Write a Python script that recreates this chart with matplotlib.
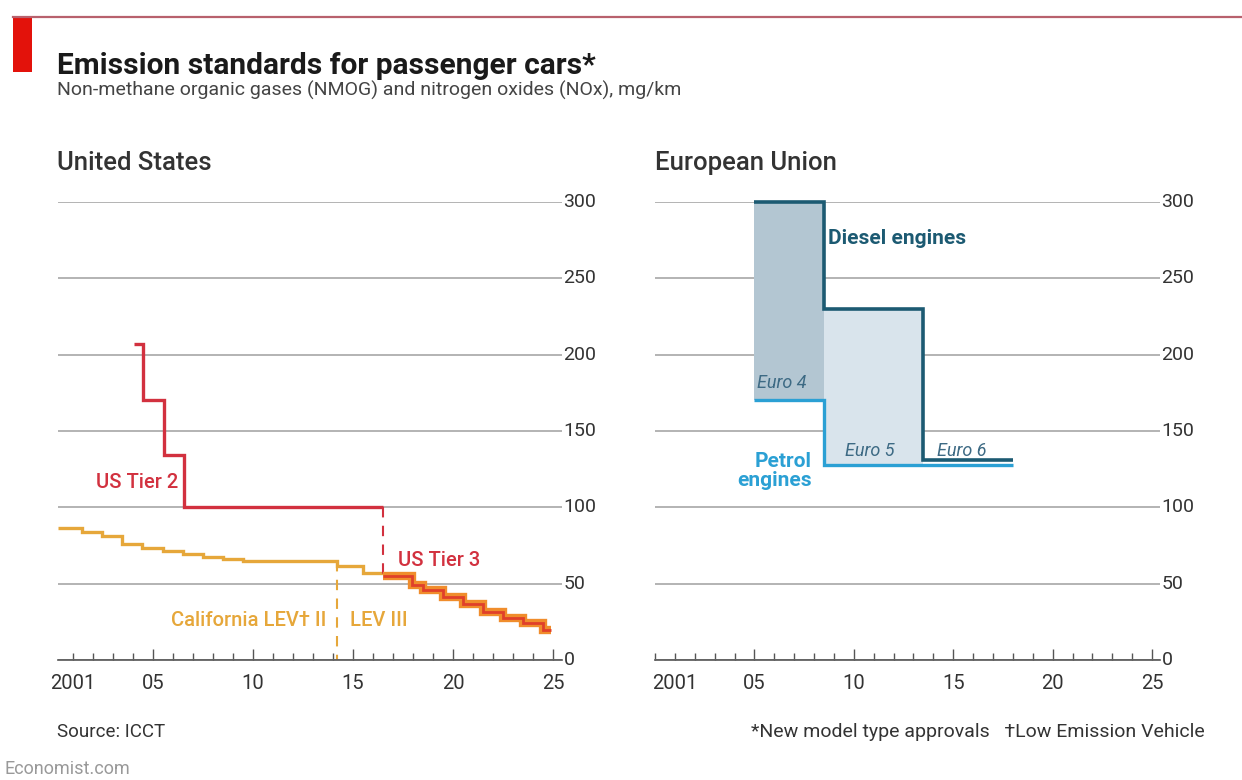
import matplotlib
matplotlib.use("Agg")
import matplotlib.pyplot as plt
import matplotlib.patheffects as pe
from matplotlib.ticker import FixedLocator, MultipleLocator

plt.rcParams['font.family'] = ['Roboto', 'DejaVu Sans']

# --- data (mg/km) ---
# United States
tier2_edges = [2004.05, 2004.5, 2005.55, 2006.55, 2016.5]
tier2_vals = [207, 170, 134, 100]

lev_edges = [2000.25, 2001.45, 2002.45, 2003.45, 2004.45, 2005.5, 2006.5,
             2007.5, 2008.5, 2009.5, 2014.2, 2015.5, 2016.5]
lev_vals = [86.5, 83.8, 81.2, 76.0, 73.4, 71.4, 69.4, 67.5, 66.2, 64.8, 61.6, 57.0]

tier3_edges = [2016.5, 2017.95, 2018.5, 2019.5, 2020.5, 2021.5, 2022.5,
               2023.5, 2024.5, 2024.9]
tier3_vals = [55.2, 49.1, 45.9, 41.0, 36.7, 31.7, 27.3, 24.0, 19.6]

# European Union
eu_edges = [2005, 2008.5, 2013.5, 2018]
diesel_vals = [300, 230, 131]
petrol_vals = [170, 128, 128]
eu_stages = ["Euro 4", "Euro 5", "Euro 6"]

year_ticks = [2001, 2005, 2010, 2015, 2020, 2025]
year_labels = ["2001", "05", "10", "15", "20", "25"]
y_ticks = [0, 50, 100, 150, 200, 250, 300]

# --- colours ---
TEXT = '#333333'
GRID = '#b3b3b3'
AXIS = '#555555'
RED = '#d2313f'
GOLD = '#e6a73a'
T3_RED = '#e0402a'
T3_ORANGE = '#f08d2c'
DIESEL = '#1c5a72'
PETROL = '#2ba0d4'
FILL4 = '#b3c6d2'
FILL5 = '#d9e4ec'

fig = plt.figure(figsize=(12.42, 7.8), dpi=100)
fig.patch.set_facecolor('white')


def style_axis(ax, xlim):
    ax.set_xlim(*xlim)
    ax.set_ylim(0, 300)
    for side in ('top', 'left', 'right'):
        ax.spines[side].set_visible(False)
    ax.spines['bottom'].set_color(AXIS)
    ax.spines['bottom'].set_linewidth(1.2)
    ax.spines['bottom'].set_zorder(5)
    ax.yaxis.tick_right()
    ax.set_yticks(y_ticks)
    ax.tick_params(axis='y', length=0, pad=1, labelsize=14, labelcolor=TEXT)
    ax.yaxis.grid(True, color=GRID, linewidth=1.4)
    ax.set_axisbelow(True)
    ax.xaxis.set_major_locator(FixedLocator(year_ticks))
    ax.xaxis.set_minor_locator(MultipleLocator(1))
    ax.set_xticklabels(year_labels)
    ax.tick_params(axis='x', which='major', direction='in', length=8, width=1,
                   color=AXIS, pad=10, labelsize=14.5, labelcolor=TEXT)
    ax.tick_params(axis='x', which='minor', direction='in', length=5, width=1,
                   color=AXIS)
    ax.xaxis.get_major_ticks()[0].tick1line.set_markersize(5)
    for lbl in ax.get_yticklabels():
        lbl.set_verticalalignment('center')


# --- United States panel ---
ax1 = fig.add_axes([58 / 1242, 1 - 660 / 780, 504 / 1242, 458 / 780])
style_axis(ax1, (2000.25, 2025.45))

ax1.stairs(lev_vals, lev_edges, baseline=None, color=GOLD, linewidth=2.4,
           clip_on=False, zorder=3)
ax1.stairs(tier2_vals, tier2_edges, baseline=None, color=RED, linewidth=2.4,
           clip_on=False, zorder=3)
t3 = ax1.stairs(tier3_vals, tier3_edges, baseline=None, color=T3_RED,
                linewidth=2.0, clip_on=False, zorder=4)
t3.set_path_effects([pe.Stroke(linewidth=6, foreground=T3_ORANGE), pe.Normal()])

# regime switches
ax1.plot([tier2_edges[-1]] * 2, [tier2_vals[-1], tier3_vals[0]], color=RED,
         linewidth=1.5, linestyle=(0, (5, 4)), zorder=3)
ax1.plot([lev_edges[10]] * 2, [lev_vals[9], 0], color=GOLD,
         linewidth=1.5, linestyle=(0, (5, 4)), zorder=3)

ax1.text(2006.25, 116.5, "US Tier 2", color=RED, fontsize=14.5, ha='right',
         va='center', fontweight='medium')
ax1.text(2017.25, 65.5, "US Tier 3", color=RED, fontsize=14.5, ha='left',
         va='center', fontweight='medium')
ax1.text(2013.65, 26.2, "California LEV\u2020 II", color=GOLD, fontsize=14.5,
         ha='right', va='center', fontweight='medium')
ax1.text(2014.85, 26.2, "LEV III", color=GOLD, fontsize=14.5, ha='left',
         va='center', fontweight='medium')

# --- European Union panel ---
ax2 = fig.add_axes([655 / 1242, 1 - 660 / 780, 505 / 1242, 458 / 780])
style_axis(ax2, (2000.0, 2025.4))

for i, fc in enumerate([FILL4, FILL5, None]):
    if fc is None:
        continue
    ax2.stairs([diesel_vals[i]], eu_edges[i:i + 2], baseline=[petrol_vals[i]],
               fill=True, color=fc, linewidth=0, zorder=2)
ax2.stairs(petrol_vals, eu_edges, baseline=None, color=PETROL, linewidth=2.4,
           clip_on=False, zorder=3)
ax2.stairs(diesel_vals, eu_edges, baseline=None, color=DIESEL, linewidth=2.6,
           clip_on=False, zorder=4)

ax2.text(2008.7, 276.4, "Diesel engines", color=DIESEL, fontsize=15,
         ha='left', va='center', fontweight='bold')
ax2.text(2007.9, 123.8, "Petrol\nengines", color=PETROL, fontsize=15,
         ha='right', va='center', fontweight='bold', linespacing=0.95)
stage_pos = [(2005.13, 181.4), (2009.55, 137), (2014.2, 137)]
for name, (x, y) in zip(eu_stages, stage_pos):
    ax2.text(x, y, name, color='#3d6a84', fontsize=13, style='italic',
             ha='left', va='center')

# --- titles and notes ---
fig.add_artist(plt.Line2D([13 / 1242, 1], [1 - 17 / 780] * 2, color='#b8616d',
                          linewidth=1.6))
fig.add_artist(plt.Rectangle((13 / 1242, 1 - 72 / 780), 19 / 1242, 55 / 780,
                             color='#e3120b', linewidth=0))
fig.text(57 / 1242, 1 - 74 / 780, "Emission standards for passenger cars*",
         fontsize=21.5, fontweight='bold', color='#1a1a1a', va='baseline')
fig.text(57 / 1242, 1 - 96 / 780,
         "Non-methane organic gases (NMOG) and nitrogen oxides (NOx), mg/km",
         fontsize=14, color='#444444', va='baseline')
fig.text(57 / 1242, 1 - 170 / 780, "United States", fontsize=18.5,
         fontweight='medium', color=TEXT, va='baseline')
fig.text(655 / 1242, 1 - 170 / 780, "European Union", fontsize=18.5,
         fontweight='medium', color=TEXT, va='baseline')
fig.text(57 / 1242, 1 - 737 / 780, "Source: ICCT", fontsize=13.5,
         color=TEXT, va='baseline')
fig.text(1205 / 1242, 1 - 737 / 780,
         "*New model type approvals   \u2020Low Emission Vehicle", fontsize=14,
         color=TEXT, va='baseline', ha='right')
fig.text(5 / 1242, 1 - 778 / 780, "Economist.com", fontsize=13,
         color='#999999', va='bottom')

fig.savefig("out.png", dpi=100)
